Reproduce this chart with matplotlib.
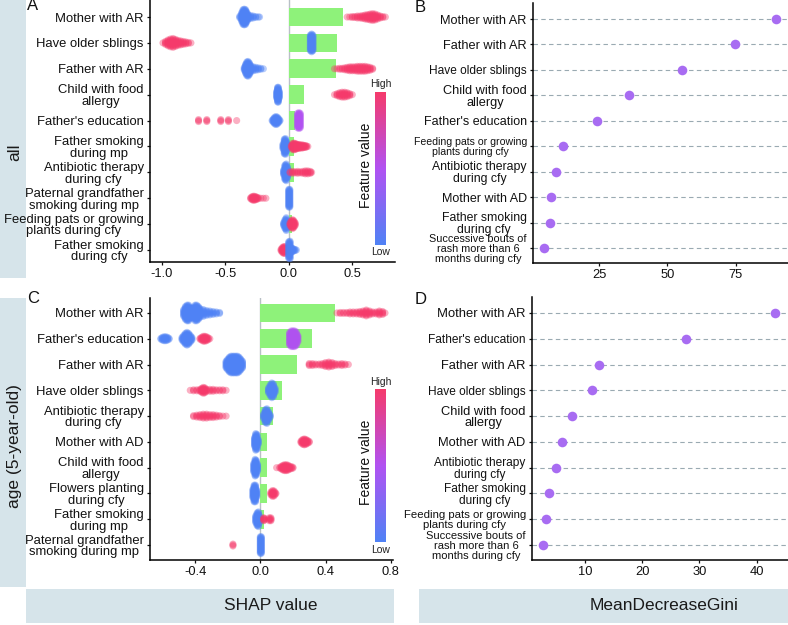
import numpy as np
import matplotlib.pyplot as plt
from matplotlib.colors import LinearSegmentedColormap
from matplotlib.patches import Rectangle
from matplotlib.cm import ScalarMappable

plt.rcParams['font.family'] = ['Liberation Sans', 'DejaVu Sans']

# ---------------- data ----------------
# SHAP summary, all children (panel A), rows top to bottom
feat_all = ["Mother with AR", "Have older sblings", "Father with AR",
            "Child with food\nallergy", "Father's education",
            "Father smoking\nduring mp", "Antibiotic therapy\nduring cfy",
            "Paternal grandfather\nsmoking during mp",
            "Feeding pats or growing\nplants during cfy",
            "Father smoking\nduring cfy"]
mean_shap_all = [0.43, 0.378, 0.372, 0.123, 0.05, 0.042, 0.04, 0.005, 0.025, 0.008]

# swarm points: (shap value, number of samples, feature value 0=low 1=high)
swarm_all = [
    [(-0.385, 3, 0), (-0.37, 10, 0), (-0.36, 16, 0), (-0.35, 17, 0), (-0.34, 16, 0), (-0.33, 11, 0),
     (-0.32, 6, 0), (-0.30, 4, 0), (-0.28, 3, 0), (-0.26, 2, 0), (-0.24, 1, 0), (-0.23, 1, 0),
     (0.46, 1, 1), (0.48, 1, 1), (0.50, 2, 1), (0.52, 2, 1), (0.54, 3, 1), (0.56, 3, 1), (0.58, 4, 1),
     (0.60, 5, 1), (0.62, 6, 1), (0.64, 7, 1), (0.66, 8, 1), (0.68, 7, 1), (0.70, 5, 1), (0.72, 3, 1),
     (0.74, 2, 1), (0.76, 1, 1)],
    [(-0.99, 1, 1), (-0.97, 4, 1), (-0.95, 7, 1), (-0.93, 9, 1), (-0.91, 10, 1), (-0.89, 8, 1),
     (-0.87, 6, 1), (-0.85, 5, 1), (-0.83, 4, 1), (-0.81, 3, 1), (-0.79, 2, 1), (-0.77, 1, 1),
     (0.17, 17, 0), (0.18, 19, 0), (0.19, 17, 0)],
    [(-0.35, 4, 0), (-0.34, 10, 0), (-0.33, 15, 0), (-0.32, 16, 0), (-0.31, 13, 0), (-0.30, 8, 0),
     (-0.28, 5, 0), (-0.26, 4, 0), (-0.24, 3, 0), (-0.22, 2, 0), (-0.20, 1, 0),
     (0.36, 1, 1), (0.38, 1, 1), (0.40, 2, 1), (0.42, 2, 1), (0.44, 3, 1), (0.46, 4, 1), (0.48, 5, 1),
     (0.50, 5, 1), (0.52, 5, 1), (0.54, 6, 1), (0.56, 6, 1), (0.58, 6, 1), (0.60, 6, 1), (0.62, 5, 1),
     (0.64, 4, 1), (0.66, 2, 1)],
    [(-0.095, 8, 0), (-0.088, 16, 0), (-0.082, 16, 0), (-0.075, 8, 0),
     (0.36, 1, 1), (0.38, 3, 1), (0.40, 5, 1), (0.42, 6, 1), (0.44, 6, 1), (0.46, 5, 1), (0.48, 3, 1), (0.50, 1, 1)],
    [(-0.71, 3, 1), (-0.645, 3, 1), (-0.535, 3, 1), (-0.475, 3, 1), (-0.41, 1, 1),
     (-0.13, 2, 0), (-0.12, 5, 0), (-0.11, 8, 0), (-0.10, 9, 0), (-0.09, 8, 0), (-0.08, 5, 0), (-0.07, 2, 0),
     (0.07, 16, 0.5), (0.08, 17, 0.5), (0.09, 16, 0.5)],
    [(-0.045, 6, 0), (-0.035, 16, 0), (-0.025, 17, 0), (-0.015, 10, 0), (-0.008, 4, 0),
     (0.02, 3, 1), (0.03, 7, 1), (0.04, 8, 1), (0.05, 7, 1), (0.06, 6, 1), (0.07, 5, 1), (0.08, 5, 1),
     (0.09, 4, 1), (0.10, 4, 1), (0.11, 4, 1), (0.12, 3, 1), (0.13, 3, 1), (0.14, 2, 1), (0.15, 1, 1)],
    [(-0.04, 6, 0), (-0.03, 16, 0), (-0.02, 18, 0), (-0.01, 12, 0), (0.0, 4, 0),
     (0.01, 2, 1), (0.03, 3, 1), (0.05, 2, 1), (0.07, 3, 1), (0.09, 2, 1), (0.11, 3, 1), (0.13, 4, 1),
     (0.15, 4, 1), (0.17, 3, 1), (0.18, 1, 1)],
    [(-0.30, 2, 1), (-0.29, 4, 1), (-0.28, 5, 1), (-0.27, 5, 1), (-0.26, 4, 1), (-0.25, 3, 1),
     (-0.24, 2, 1), (-0.22, 1, 1), (-0.20, 1, 1), (-0.18, 1, 1),
     (0.0, 19, 0), (0.008, 19, 0)],
    [(-0.04, 4, 0), (-0.03, 10, 0), (-0.02, 14, 0), (-0.01, 8, 0), (0.0, 4, 0),
     (0.01, 4, 1), (0.02, 8, 1), (0.03, 10, 1), (0.04, 8, 1), (0.05, 4, 1)],
    [(-0.06, 3, 1), (-0.05, 6, 1), (-0.04, 8, 1), (-0.03, 8, 1), (-0.02, 4, 1),
     (0.0, 18, 0), (0.01, 19, 0), (0.02, 6, 0), (0.03, 4, 0), (0.04, 3, 0), (0.05, 2, 0), (0.06, 1, 0)],
]

# SHAP summary, 5-year-old (panel C)
feat_5y = ["Mother with AR", "Father's education", "Father with AR",
           "Have older sblings", "Antibiotic therapy\nduring cfy", "Mother with AD",
           "Child with food\nallergy", "Flowers planting\nduring cfy",
           "Father smoking\nduring mp", "Paternal grandfather\nsmoking during mp"]
mean_shap_5y = [0.456, 0.317, 0.225, 0.133, 0.078, 0.041, 0.041, 0.041, 0.02, 0.003]

swarm_5y = [
    [(-0.47, 8, 0), (-0.46, 14, 0), (-0.45, 17, 0), (-0.44, 17, 0), (-0.43, 12, 0), (-0.42, 10, 0),
     (-0.41, 12, 0), (-0.40, 17, 0), (-0.39, 17, 0), (-0.38, 14, 0), (-0.37, 10, 0), (-0.35, 8, 0),
     (-0.33, 6, 0), (-0.31, 5, 0), (-0.29, 4, 0), (-0.27, 3, 0), (-0.25, 2, 0),
     (0.47, 1, 1), (0.49, 2, 1), (0.51, 2, 1), (0.53, 2, 1), (0.55, 3, 1), (0.57, 3, 1), (0.59, 3, 1),
     (0.61, 4, 1), (0.63, 5, 1), (0.65, 7, 1), (0.67, 5, 1), (0.69, 3, 1), (0.71, 3, 1), (0.73, 5, 1),
     (0.75, 4, 1), (0.765, 1, 1)],
    [(-0.61, 2, 0), (-0.60, 4, 0), (-0.59, 5, 0), (-0.58, 5, 0), (-0.57, 4, 0), (-0.56, 2, 0),
     (-0.48, 4, 0), (-0.47, 8, 0), (-0.46, 12, 0), (-0.45, 14, 0), (-0.44, 12, 0), (-0.43, 8, 0), (-0.42, 4, 0),
     (-0.37, 2, 1), (-0.36, 4, 1), (-0.35, 6, 1), (-0.34, 6, 1), (-0.33, 5, 1), (-0.32, 3, 1), (-0.31, 1, 1),
     (0.18, 14, 0.5), (0.19, 17, 0.5), (0.20, 17, 0.5), (0.21, 17, 0.5), (0.22, 15, 0.5), (0.23, 8, 0.5)],
    [(-0.21, 8, 0), (-0.20, 12, 0), (-0.19, 16, 0), (-0.18, 18, 0), (-0.17, 18, 0), (-0.16, 18, 0),
     (-0.15, 18, 0), (-0.14, 18, 0), (-0.13, 16, 0), (-0.12, 12, 0), (-0.11, 8, 0),
     (0.30, 3, 1), (0.32, 3, 1), (0.34, 2, 1), (0.36, 2, 1), (0.38, 3, 1), (0.40, 5, 1), (0.42, 6, 1),
     (0.44, 5, 1), (0.46, 3, 1), (0.48, 2, 1), (0.50, 3, 1), (0.52, 2, 1), (0.54, 1, 1)],
    [(-0.43, 1, 1), (-0.41, 2, 1), (-0.39, 2, 1), (-0.37, 3, 1), (-0.36, 5, 1), (-0.35, 7, 1),
     (-0.34, 6, 1), (-0.33, 3, 1), (-0.31, 3, 1), (-0.29, 3, 1), (-0.27, 2, 1), (-0.25, 2, 1),
     (-0.23, 2, 1), (-0.21, 1, 1),
     (0.05, 6, 0), (0.06, 12, 0), (0.07, 16, 0), (0.08, 14, 0), (0.09, 6, 0)],
    [(-0.41, 2, 1), (-0.39, 3, 1), (-0.37, 4, 1), (-0.35, 5, 1), (-0.33, 5, 1), (-0.31, 4, 1),
     (-0.29, 4, 1), (-0.27, 3, 1), (-0.25, 2, 1), (-0.23, 1, 1), (-0.21, 1, 1),
     (0.02, 6, 0), (0.03, 14, 0), (0.04, 16, 0), (0.05, 10, 0), (0.06, 4, 0)],
    [(-0.035, 10, 0), (-0.028, 18, 0), (-0.02, 16, 0), (-0.013, 6, 0),
     (0.25, 3, 1), (0.26, 6, 1), (0.27, 7, 1), (0.28, 6, 1), (0.29, 4, 1), (0.30, 2, 1)],
    [(-0.04, 10, 0), (-0.032, 18, 0), (-0.025, 16, 0), (-0.017, 8, 0),
     (0.10, 1, 1), (0.12, 2, 1), (0.13, 4, 1), (0.14, 6, 1), (0.15, 7, 1), (0.16, 7, 1), (0.17, 6, 1),
     (0.18, 4, 1), (0.19, 3, 1), (0.20, 2, 1)],
    [(-0.045, 10, 0), (-0.038, 18, 0), (-0.03, 18, 0), (-0.022, 8, 0),
     (0.065, 4, 1), (0.075, 7, 1), (0.085, 6, 1), (0.095, 2, 1)],
    [(-0.028, 8, 0), (-0.02, 14, 0), (-0.012, 16, 0), (-0.005, 8, 0),
     (0.02, 4, 1), (0.025, 3, 1), (0.055, 4, 1), (0.065, 4, 1)],
    [(-0.168, 3, 1), (0.0, 18, 0), (0.006, 18, 0)],
]

# random forest importance (panels B and D)
feat_gini_all = ["Mother with AR", "Father with AR", "Have older sblings",
                 "Child with food\nallergy", "Father's education",
                 "Feeding pats or growing\nplants during cfy",
                 "Antibiotic therapy\nduring cfy", "Mother with AD",
                 "Father smoking\nduring cfy",
                 "Successive bouts of\nrash more than 6\nmonths during cfy"]
gini_all = [89.5, 74.6, 55.2, 35.8, 24.2, 11.9, 9.4, 7.5, 7.1, 4.9]

feat_gini_5y = ["Mother with AR", "Father's education", "Father with AR",
                "Have older sblings", "Child with food\nallergy", "Mother with AD",
                "Antibiotic therapy\nduring cfy", "Father smoking\nduring cfy",
                "Feeding pats or growing\nplants during cfy",
                "Successive bouts of\nrash more than 6\nmonths during cfy"]
gini_5y = [43.2, 27.7, 12.5, 11.3, 7.8, 5.9, 4.9, 3.7, 3.2, 2.7]

# ---------------- style ----------------
W, H = 788, 625
STRIP = "#d6e4ea"
GREEN = "#8ef27a"
DOT = "#a86cf2"
cmap = LinearSegmentedColormap.from_list("shap", ["#4f82f5", "#b152f2", "#f53a6b"])
sizes_b = [9.2, 9.2, 8.6, 9.2, 9.0, 7.6, 8.8, 9.0, 8.8, 7.8]
sizes_d = [9.4, 8.6, 9.3, 8.6, 9.3, 9.3, 8.6, 8.6, 8.2, 8.0]


def box(l, t, r, b):
    return [l / W, 1 - b / H, (r - l) / W, (b - t) / H]


def style_axes(ax, labels, sizes):
    n = len(labels)
    ax.spines[['top', 'right']].set_visible(False)
    for s in ['left', 'bottom']:
        ax.spines[s].set_linewidth(1.1)
    ax.set_yticks(np.arange(n)[::-1])
    ax.set_yticklabels(labels)
    ax.tick_params(length=2.5, width=0.9, pad=2, labelsize=9.3, colors='#111111')
    for t, fs in zip(ax.get_yticklabels(), sizes):
        t.set_multialignment('center')
        t.set_linespacing(0.98)
        t.set_fontsize(fs)


def shap_panel(rect, labels, bars, swarm, xlim, ylim, xticks, xticklabels):
    ax = fig.add_axes(box(*rect))
    n = len(labels)
    ypos = np.arange(n)[::-1]
    ax.axvline(0, color='#b8c0c6', lw=1.0, zorder=1)
    ax.barh(ypos, bars, height=0.72, color=GREEN, zorder=2)
    xs, ys, cs = [], [], []
    for i, groups in enumerate(swarm):
        for x, cnt, v in groups:
            for k in range(cnt):
                xs.append(x)
                ys.append(ypos[i] + (k - (cnt - 1) / 2) * 0.038)
                cs.append(v)
    ax.scatter(xs, ys, c=cs, cmap=cmap, vmin=0, vmax=1, s=26, alpha=0.4,
               linewidths=0, zorder=3)
    ax.set_xlim(*xlim)
    ax.set_ylim(*ylim)
    ax.set_xticks(xticks)
    ax.set_xticklabels(xticklabels)
    style_axes(ax, labels, [9.4] * n)
    return ax


def gini_panel(rect, labels, vals, xlim, ylim, xticks, sizes):
    ax = fig.add_axes(box(*rect))
    n = len(labels)
    ypos = np.arange(n)[::-1]
    for y in ypos:
        ax.axhline(y, color='#9aaab2', lw=0.8, ls=(0, (4, 3)), zorder=1)
    ax.scatter(vals, ypos, s=48, color=DOT, zorder=3, linewidths=0)
    ax.set_xlim(*xlim)
    ax.set_ylim(*ylim)
    ax.set_xticks(xticks)
    style_axes(ax, labels, sizes)
    return ax


def colorbar(rect, high_xy, low_xy, title_xy):
    cax = fig.add_axes(box(*rect))
    cb = fig.colorbar(ScalarMappable(cmap=cmap), cax=cax)
    cb.outline.set_visible(False)
    cb.set_ticks([])
    fig.text(high_xy[0] / W, 1 - high_xy[1] / H, "High", ha='center', va='center',
             fontsize=7.5, color='#222222')
    fig.text(low_xy[0] / W, 1 - low_xy[1] / H, "Low", ha='center', va='center',
             fontsize=7.5, color='#222222')
    fig.text(title_xy[0] / W, 1 - title_xy[1] / H, "Feature value", ha='center',
             va='center', rotation=90, fontsize=10, color='#111111')


fig = plt.figure(figsize=(W / 100, H / 100), dpi=100)

# facet strips
for l, t, r, b in [(0, 0, 26, 278), (0, 298, 26, 587), (26, 589, 394, 623), (419, 589, 788, 623)]:
    fig.add_artist(Rectangle((l / W, 1 - b / H), (r - l) / W, (b - t) / H,
                             transform=fig.transFigure, fc=STRIP, ec='none', zorder=0))
fig.text(15 / W, 1 - 152 / H, "all", rotation=90, ha='center', va='center', fontsize=12.5, color='#1a1a1a')
fig.text(15 / W, 1 - 446 / H, "age (5-year-old)", rotation=90, ha='center', va='center',
         fontsize=12.5, color='#1a1a1a')
fig.text(271 / W, 1 - 606 / H, "SHAP value", ha='center', va='center', fontsize=12.5, color='#1a1a1a')
fig.text(664 / W, 1 - 606 / H, "MeanDecreaseGini", ha='center', va='center', fontsize=12.5, color='#1a1a1a')

shap_panel((150, 0, 395, 262), feat_all, mean_shap_all, swarm_all,
           (-1.092, 0.836), (-0.463, 9.657), [-1.0, -0.5, 0.0, 0.5], ["-1.0", "-0.5", "0.0", "0.5"])
shap_panel((150, 298, 393, 560), feat_5y, mean_shap_5y, swarm_5y,
           (-0.677, 0.814), (-0.58, 9.58), [-0.4, 0.0, 0.4, 0.8], ["-0.4", "0.0", "0.4", "0.8"])
gini_panel((533, 3, 788, 263), feat_gini_all, gini_all, (0.9, 94.0), (-0.59, 9.63), [25, 50, 75], sizes_b)
gini_panel((532, 297, 788, 560), feat_gini_5y, gini_5y, (0.73, 45.5), (-0.58, 9.62), [10, 20, 30, 40], sizes_d)

colorbar((375, 92, 386, 245), (381, 84), (381, 252), (366, 165))
colorbar((375, 389, 386, 542), (381, 382), (381, 550), (366, 462))

for letter, x, y in [("A", 27, 6), ("B", 415, 8), ("C", 27, 299), ("D", 415, 300)]:
    fig.text(x / W, 1 - y / H, letter, ha='left', va='center', fontsize=12, color='#111111')

fig.savefig("out.png", dpi=100)
